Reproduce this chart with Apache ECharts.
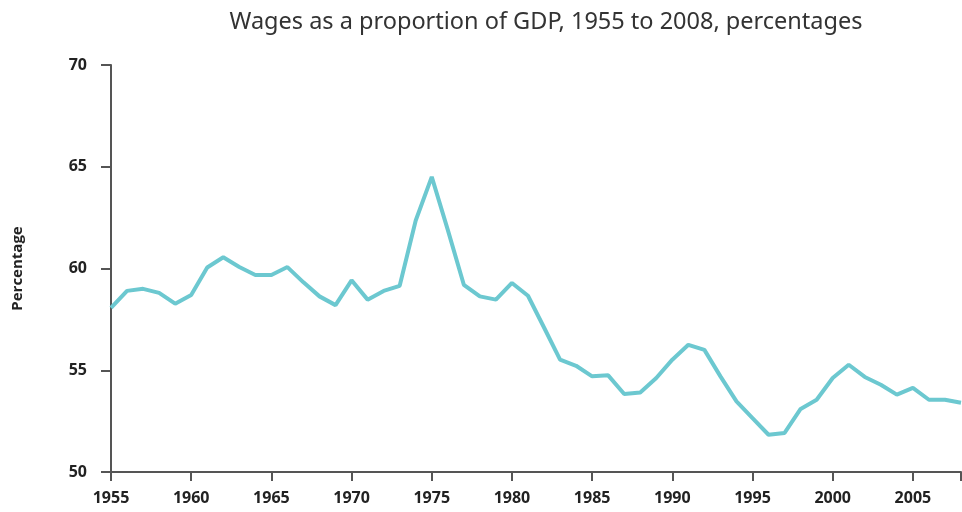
<!DOCTYPE html>
<html>
<head>
<meta charset="utf-8">
<script src="https://cdn.jsdelivr.net/npm/echarts@6/dist/echarts.min.js"></script>
<style>html,body{margin:0;padding:0;background:#fff;}#c{width:962px;height:512px;}</style>
</head>
<body>
<div id="c"></div>
<script>
var years = [1955,1956,1957,1958,1959,1960,1961,1962,1963,1964,1965,1966,1967,1968,1969,1970,1971,1972,1973,1974,1975,1976,1977,1978,1979,1980,1981,1982,1983,1984,1985,1986,1987,1988,1989,1990,1991,1992,1993,1994,1995,1996,1997,1998,1999,2000,2001,2002,2003,2004,2005,2006,2007,2008];
var wageShare = [58.06,58.9,59.0,58.8,58.27,58.7,60.05,60.55,60.07,59.68,59.68,60.07,59.32,58.63,58.2,59.42,58.47,58.9,59.15,62.36,64.5,61.9,59.2,58.63,58.47,59.29,58.66,57.1,55.52,55.22,54.7,54.75,53.83,53.91,54.62,55.52,56.25,56.0,54.7,53.47,52.65,51.83,51.92,53.1,53.55,54.62,55.27,54.67,54.29,53.8,54.13,53.55,53.55,53.4];
var yTicks = [50,55,60,65,70];

var chart = echarts.init(document.getElementById('c'), null, {renderer:'canvas'});
var pts = years.map(function(y,i){return [y, wageShare[i]];});
chart.setOption({
  animation:false,
  title:{text:'Wages as a proportion of GDP, 1955 to 2008, percentages', left:541, textAlign:'center', top:5,
    textStyle:{fontFamily:'Noto Sans', fontWeight:'normal', fontSize:23.5, color:'#333'}},
  grid:{left:111, right:1, top:65, bottom:40, outerBoundsMode:'none', containLabel:false},
  xAxis:{type:'value', min:1955, max:2008, interval:5,
    axisLine:{show:true, lineStyle:{color:'#555', width:2}},
    axisTick:{show:true, length:9, lineStyle:{color:'#555', width:2}},
    axisLabel:{fontFamily:'Open Sans', fontWeight:'bold', fontSize:16, color:'#222', margin:18,
      formatter:function(v){return v%5===0 && v<=2005 ? String(v) : '';}},
    splitLine:{show:false}},
  yAxis:{type:'value', min:50, max:70, interval:5,
    name:'Percentage', nameLocation:'middle', nameGap:86, nameRotate:90,
    nameTextStyle:{fontFamily:'Open Sans', fontWeight:'bold', fontSize:15, color:'#222'},
    axisLine:{show:true, lineStyle:{color:'#555', width:2}},
    axisTick:{show:true, length:10, lineStyle:{color:'#555', width:2}},
    axisLabel:{fontFamily:'Open Sans', fontWeight:'bold', fontSize:16, color:'#222', margin:24},
    splitLine:{show:false}},
  series:[{type:'line', data:pts, showSymbol:false, symbol:'none', clip:false,
    lineStyle:{color:'#6cc8d0', width:4}}]
});
</script>
</body>
</html>
